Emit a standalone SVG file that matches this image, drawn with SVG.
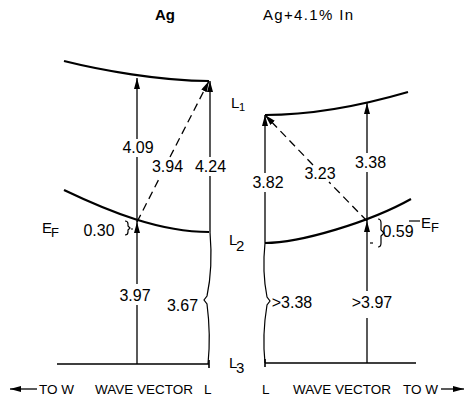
<svg xmlns="http://www.w3.org/2000/svg" width="466" height="400" viewBox="0 0 466 400">
<defs>
<marker id="ah" markerUnits="userSpaceOnUse" markerWidth="12" markerHeight="7" refX="11" refY="3" orient="auto">
<path d="M0,0 L11,3 L0,6 Z" fill="#000"/>
</marker>
<style>
text{font-family:"Liberation Sans",Arial,sans-serif;fill:#000}
.lbl{font-size:16px;text-anchor:middle}
.ax{font-size:13.5px}
.band{fill:none;stroke:#000;stroke-width:2.2}
.arr{fill:none;stroke:#000;stroke-width:1.3}
.dash{fill:none;stroke:#000;stroke-width:1.3;stroke-dasharray:8 5}
.base{fill:none;stroke:#000;stroke-width:1.6}
.brace{fill:none;stroke:#000;stroke-width:1.2}
</style>
</defs>
<rect width="466" height="400" fill="#fff"/>

<g id="titles">
<text x="155" y="20" font-size="15" font-weight="bold">Ag</text>
<text x="263" y="20" font-size="15" textLength="90" lengthAdjust="spacing">Ag+4.1% In</text>
</g>

<g id="left-bands">
<path class="band" d="M64,61 C100,70 160,81 209,81" stroke-width="2.6"/>
<path class="band" d="M64,190 C110,212 160,232 209,232"/>
<path class="base" d="M57,364 H209 M209,360 V368"/>
</g>

<g id="right-bands">
<path class="band" d="M265,115 C310,115 360,106 408,92"/>
<path class="band" d="M265,243 C300,243 370,222 411,199"/>
<path class="base" d="M265,363 H416 M265,359 V367"/>
</g>

<g id="connectors">
<!-- left panel -->
<path class="arr" d="M137,222 V157"/>
<path class="arr" d="M137,139 V78" marker-end="url(#ah)"/>
<path class="arr" d="M137,364 V305"/>
<path class="arr" d="M137,284 V222" marker-end="url(#ah)"/>
<path class="arr" d="M210,232 V176"/>
<path class="arr" d="M210,157 V81" marker-end="url(#ah)"/>
<path class="dash" d="M137,222 L160,177"/>
<path class="dash" d="M170,157 L209,81" marker-end="url(#ah)"/>
<path class="brace" d="M210,232 Q213,268 207,296 L204,300 L207,304 Q211,335 208,364"/>
<path class="brace" d="M125,221 q3,0 3,3 v2 l2,2 l-2,2 v2 q0,3 -3,3"/>
<path class="brace" d="M131,229 h2"/>
<!-- right panel -->
<path class="arr" d="M265,243 V192"/>
<path class="arr" d="M265,173 V115" marker-end="url(#ah)"/>
<path class="arr" d="M367,221 V172"/>
<path class="arr" d="M367,153 V103" marker-end="url(#ah)"/>
<path class="arr" d="M367,363 V318"/>
<path class="arr" d="M367,291 V221" marker-end="url(#ah)"/>
<path class="dash" d="M367,221 L329,182"/>
<path class="dash" d="M313,165 L265,115" marker-end="url(#ah)"/>
<path class="brace" d="M265,243 Q262,272 267,297 L270,301 L267,305 Q262,335 265,363"/>
<path class="brace" d="M378,219 q3,0 3,4 v7 l3,3 l-3,3 v7 q0,4 -3,4"/>
<path class="brace" d="M370,243 h3"/>
</g>

<g id="left-labels">
<text class="lbl" x="138" y="153">4.09</text>
<text class="lbl" x="167.5" y="172">3.94</text>
<text class="lbl" x="210.5" y="172">4.24</text>
<text x="42" y="233" font-size="15">E</text>
<text x="51" y="237" font-size="13">F</text>
<text class="lbl" x="99" y="236">0.30</text>
<text class="lbl" x="135" y="301">3.97</text>
<text class="lbl" x="182.5" y="311">3.67</text>
</g>

<g id="right-labels">
<text x="231" y="108" font-size="15">L</text>
<text x="239" y="111" font-size="11">1</text>
<text class="lbl" x="268" y="188">3.82</text>
<text class="lbl" x="320" y="179">3.23</text>
<text class="lbl" x="370.5" y="168">3.38</text>
<text x="229" y="245" font-size="15">L</text>
<text x="236" y="251" font-size="15">2</text>
<text x="229" y="368" font-size="15">L</text>
<text x="236" y="373" font-size="15">3</text>
<text class="lbl" x="292" y="308">&gt;3.38</text>
<text class="lbl" x="372" y="308">&gt;3.97</text>
<text class="lbl" x="398" y="237">0.59</text>
<path d="M409,221 H420" stroke="#000" stroke-width="1.2"/>
<text x="421" y="228" font-size="15">E</text>
<text x="431" y="232" font-size="13">F</text>
</g>

<g id="axis-labels">
<path d="M37,389 H10" stroke="#000" stroke-width="1.3" marker-end="url(#ah)"/>
<text class="ax" x="39" y="394">TO W</text>
<text class="ax" x="95" y="394">WAVE VECTOR</text>
<text class="ax" x="204" y="394">L</text>
<text class="ax" x="262" y="394">L</text>
<text class="ax" x="293" y="394">WAVE VECTOR</text>
<text class="ax" x="403" y="394">TO W</text>
<path d="M441,389 H464" stroke="#000" stroke-width="1.3" marker-end="url(#ah)"/>
</g>
</svg>
